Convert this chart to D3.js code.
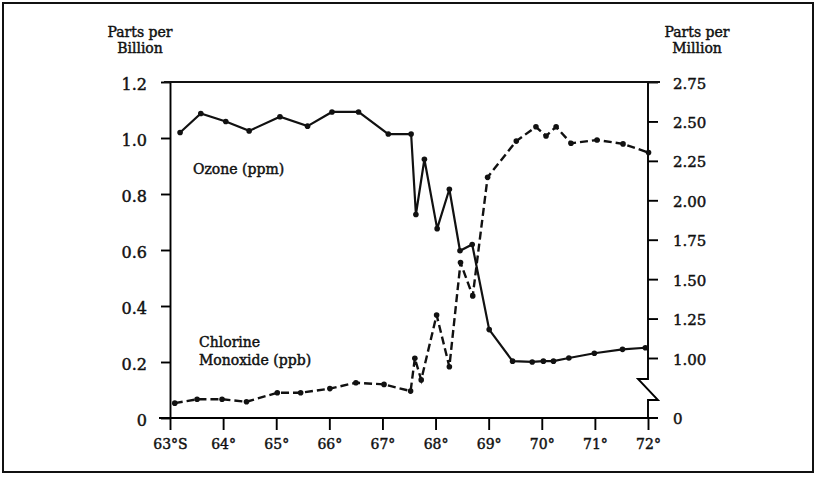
<!DOCTYPE html>
<html>
<head>
<meta charset="utf-8">
<script src="https://cdn.jsdelivr.net/npm/d3@7"></script>
<style>
  body { margin: 0; background: #fff; }
  svg { display: block; }
  text { font-family: 'DejaVu Serif', serif; fill: #111; stroke: #111; stroke-width: 0.45px; }
</style>
</head>
<body>
<svg id="chart" width="818" height="481"></svg>
<script>
// latitude (deg S) of each sample
const ozoneLat = [63.19, 63.58, 64.05, 64.49, 65.07, 65.59, 66.05, 66.55, 67.11, 67.54, 67.63, 67.79, 68.03,
  68.26, 68.46, 68.69, 69.01, 69.45, 69.82, 70.03, 70.22, 70.51, 70.99, 71.52, 71.95]
// ozone, parts per million (right axis)
const ozonePpm = [2.43, 2.55, 2.50, 2.44, 2.53, 2.47, 2.56, 2.56, 2.42, 2.42, 1.91, 2.26, 1.82,
  2.07, 1.68, 1.72, 1.18, 0.98, 0.975, 0.98, 0.98, 1.00, 1.03, 1.055, 1.065]

const cloLat = [63.09, 63.51, 63.98, 64.44, 65.02, 65.46, 66.01, 66.50, 67.03, 67.53, 67.61, 67.73, 68.02,
  68.26, 68.47, 68.70, 68.98, 69.52, 69.89, 70.08, 70.27, 70.55, 71.04, 71.53, 72.01]
// chlorine monoxide, parts per billion (left axis)
const cloPpb = [0.053, 0.067, 0.067, 0.058, 0.090, 0.090, 0.105, 0.126, 0.120, 0.096, 0.213, 0.136, 0.368,
  0.183, 0.555, 0.436, 0.860, 0.989, 1.040, 1.007, 1.040, 0.981, 0.993, 0.979, 0.948]

const latTicks = [63, 64, 65, 66, 67, 68, 69, 70, 71, 72]
const latLabels = ['63°S', '64°', '65°', '66°', '67°', '68°', '69°', '70°', '71°', '72°']
const ppbTicks = [0, 0.2, 0.4, 0.6, 0.8, 1.0, 1.2]
const ppmTicks = [1.00, 1.25, 1.50, 1.75, 2.00, 2.25, 2.50, 2.75]

const svg = d3.select('#chart')
const ink = '#111'

const x = d3.scaleLinear().domain([63, 72]).range([170, 648])
const yLeft = d3.scaleLinear().domain([0, 1.2]).range([418, 82])
const yRight = d3.scaleLinear().domain([1, 2.75]).range([358, 82])

// outer frame
svg.append('rect')
  .attr('x', 3).attr('y', 3)
  .attr('width', 810).attr('height', 469)
  .attr('fill', 'none')
  .attr('stroke', ink)
  .attr('stroke-width', 2)

// left axis
const gLeft = svg.append('g')
  .attr('transform', `translate(${x(63)},0)`)
  .call(d3.axisLeft(yLeft)
    .tickValues(ppbTicks)
    .tickFormat(d => d === 0 ? '0' : d.toFixed(1))
    .tickSizeInner(9).tickSizeOuter(0).tickPadding(14))
gLeft.selectAll('text').attr('font-size', 16).attr('dy', '0.45em')

// bottom axis
const gBottom = svg.append('g')
  .attr('transform', `translate(0,${yLeft(0)})`)
  .call(d3.axisBottom(x)
    .tickValues(latTicks)
    .tickFormat((d, i) => latLabels[i])
    .tickSizeInner(12).tickSizeOuter(0).tickPadding(9))
gBottom.select('.domain').remove()
gBottom.selectAll('text').attr('font-size', 14)
gBottom.append('line')
  .attr('x1', x(63) - 11).attr('x2', x(72) + 10)
  .attr('stroke', 'currentColor')

// right axis, with a break below 1.00
const gRight = svg.append('g')
  .attr('transform', `translate(${x(72)},0)`)
  .call(d3.axisRight(yRight)
    .tickValues(ppmTicks)
    .tickFormat(d3.format('.2f'))
    .tickSizeInner(10).tickSizeOuter(0).tickPadding(15))
gRight.select('.domain').remove()
gRight.selectAll('text').attr('font-size', 15).attr('dy', '0.4em')
const yb = yRight(1) + 21
gRight.append('path')
  .attr('d', `M0,${yRight(2.75)}V${yb}H-10L10,${yb + 21}H0V${yLeft(0)}`)
  .attr('fill', 'none')
  .attr('stroke', 'currentColor')
gRight.append('text')
  .attr('x', 25).attr('y', yLeft(0))
  .attr('dy', '0.4em')
  .attr('font-size', 15)
  .text('0')

// top line joining the 1.2 and 2.75 ticks
svg.append('line')
  .attr('x1', x(63) - 6).attr('x2', x(72) + 12)
  .attr('y1', yLeft(1.2)).attr('y2', yLeft(1.2))
  .attr('stroke', ink)

svg.selectAll('.tick line, g line, g path').attr('stroke-width', 1.9)
svg.selectAll('line').attr('stroke-width', 1.9)

// axis titles
const titles = [
  { x: 140, lines: ['Parts per', 'Billion'] },
  { x: 697, lines: ['Parts per', 'Million'] }
]
titles.forEach(t => {
  svg.append('text')
    .attr('text-anchor', 'middle')
    .attr('font-size', 14)
    .selectAll('tspan')
    .data(t.lines)
    .join('tspan')
    .attr('x', t.x)
    .attr('y', (d, i) => 37 + i * 16)
    .text(d => d)
})

// series
const ozone = ozoneLat.map((d, i) => [d, ozonePpm[i]])
const clo = cloLat.map((d, i) => [d, cloPpb[i]])

svg.append('path')
  .attr('d', d3.line().x(d => x(d[0])).y(d => yRight(d[1]))(ozone))
  .attr('fill', 'none')
  .attr('stroke', ink)
  .attr('stroke-width', 2.2)

svg.append('path')
  .attr('d', d3.line().x(d => x(d[0])).y(d => yLeft(d[1]))(clo))
  .attr('fill', 'none')
  .attr('stroke', ink)
  .attr('stroke-width', 2.4)
  .attr('stroke-dasharray', '8,4')

svg.append('g').selectAll('circle')
  .data(ozone)
  .join('circle')
  .attr('cx', d => x(d[0]))
  .attr('cy', d => yRight(d[1]))
  .attr('r', 2.8)
  .attr('fill', ink)

svg.append('g').selectAll('circle')
  .data(clo)
  .join('circle')
  .attr('cx', d => x(d[0]))
  .attr('cy', d => yLeft(d[1]))
  .attr('r', 2.8)
  .attr('fill', ink)

// series labels
svg.append('text')
  .attr('x', 193).attr('y', 174)
  .attr('font-size', 14)
  .text('Ozone (ppm)')

svg.append('text')
  .attr('font-family', "'Liberation Serif', serif")
  .attr('font-size', 14)
  .selectAll('tspan')
  .data(['Chlorine', 'Monoxide (ppb)'])
  .join('tspan')
  .attr('x', 199)
  .attr('y', (d, i) => 346.5 + i * 18.5)
  .text(d => d)
</script>
</body>
</html>
